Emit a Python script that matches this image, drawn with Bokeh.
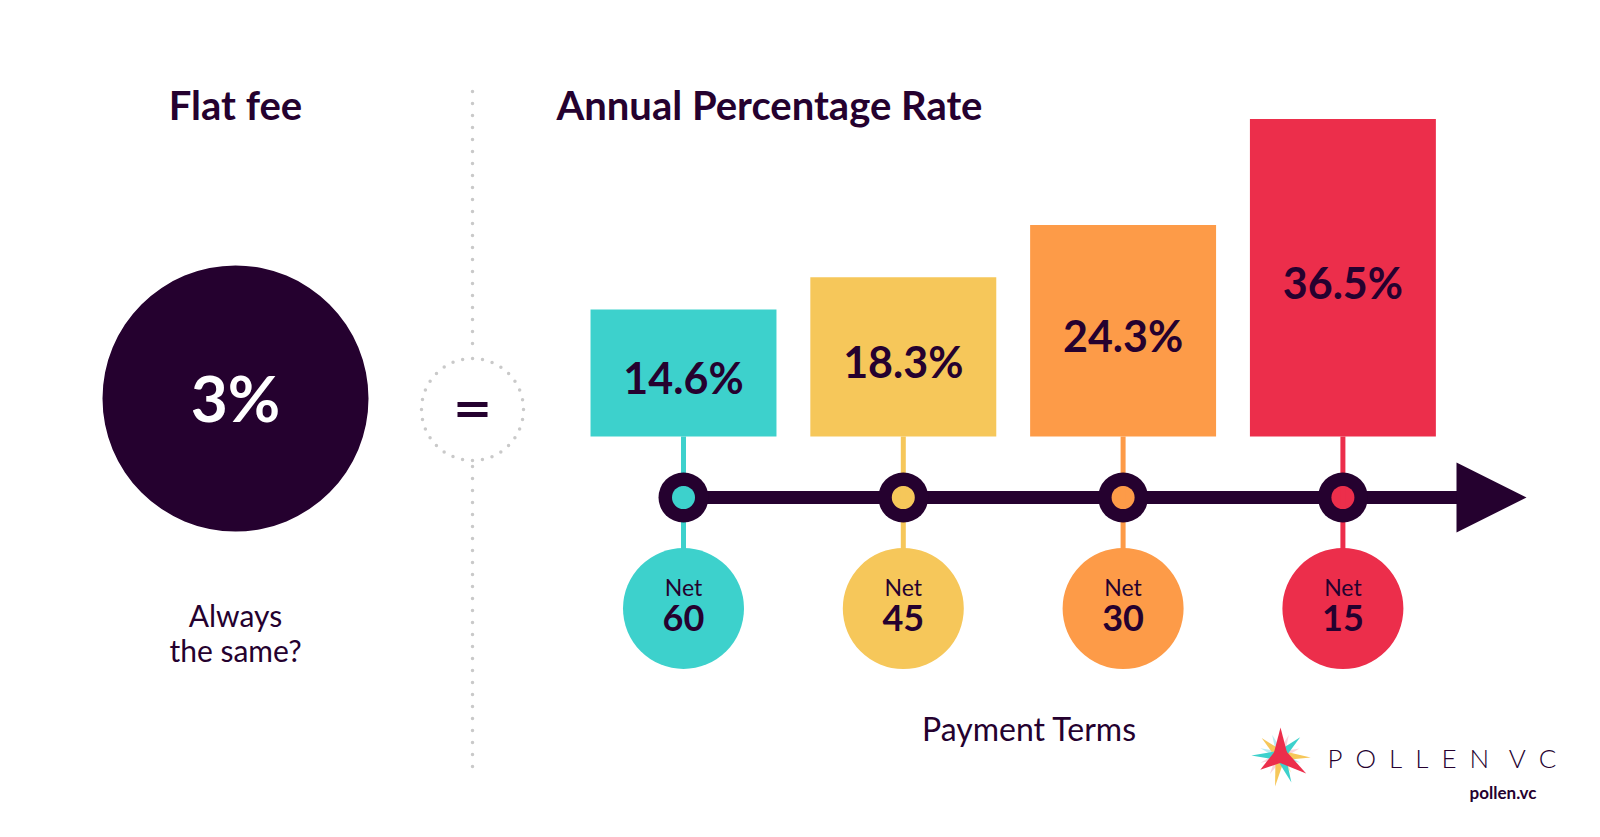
import numpy as np
from bokeh.plotting import figure
from bokeh.models import Range1d, ColumnDataSource
from bokeh.core.properties import value
from bokeh.embed import file_html
from bokeh.resources import INLINE

# ---- data ----
terms = ["60", "45", "30", "15"]
term_prefix = "Net"
apr_values = [14.6, 18.3, 24.3, 36.5]
flat_fee = 3
colors = ["#3dd1cc", "#f6c75a", "#fd9b48", "#ec2e4b"]
title_left = "Flat fee"
title_right = "Annual Percentage Rate"
axis_title = "Payment Terms"
subtitle_lines = ["Always", "the same?"]

DARK = "#25012f"
FONT = "Lato"
W, H = 1600, 837

p = figure(width=W, height=H, output_backend="svg", toolbar_location=None,
           x_range=Range1d(0, W), y_range=Range1d(H, 0), min_border=0)
p.axis.visible = False
p.grid.visible = False
p.outline_line_color = None
p.background_fill_color = "white"
p.border_fill_color = "white"

# extra ranges: bars in percent units, terms by index
K = 8.7          # px per percentage point
BASE = 436       # pixel row of 0 %
p.extra_y_ranges = {"pct": Range1d(start=(BASE - H) / K, end=BASE / K)}
C0, STEP = 683, 219.8
p.extra_x_ranges = {"terms": Range1d(start=-C0 / STEP, end=(W - C0) / STEP)}

idx = list(range(len(terms)))
src = ColumnDataSource(dict(
    i=idx, v=apr_values, half=[v / 2 for v in apr_values], col=colors,
    lab=[f"{v}%" for v in apr_values], term=terms,
    net=[term_prefix] * len(terms),
    left=[i - 0.423 for i in idx], right=[i + 0.423 for i in idx],
    zero=[0] * len(terms),
))

# ---- left panel ----
p.text(x=[235], y=[104], text=[title_left], text_font=value(FONT), text_font_style="bold",
       text_font_size="40px", text_color=DARK, text_align="center", text_baseline="alphabetic")
p.scatter(x=[235], y=[398], size=266, fill_color=DARK, line_color=None)
p.text(x=[235], y=[397], text=[f"{flat_fee}%"], text_font=value(FONT), text_font_style="bold",
       text_font_size="64px", text_color="white", text_align="center", text_baseline="alphabetic")
p.text(x=[235, 235], y=[614, 649], text=subtitle_lines, text_font=value(FONT),
       text_font_size="30px", text_color=DARK, text_align="center", text_baseline="alphabetic")

# dotted divider and "=" circle
p.line(x=[472, 472], y=[91, 352], line_color="#c9c9c9", line_width=3.5, line_dash="0 12", line_cap="round")
p.line(x=[472, 472], y=[466, 778], line_color="#c9c9c9", line_width=3.5, line_dash="0 12", line_cap="round")
p.circle(x=[472], y=[409], radius=51, fill_color=None, line_color="#c9c9c9", line_width=3.5,
         line_dash="0 10", line_cap="round")
p.rect(x=[472, 472], y=[404, 414], width=30, height=5, fill_color=DARK, line_color=None)

# ---- right panel ----
p.text(x=[556], y=[104], text=[title_right], text_font=value(FONT), text_font_style="bold",
       text_font_size="40px", text_color=DARK, text_align="left", text_baseline="alphabetic")

# bars
p.quad(left="left", right="right", bottom="zero", top="v", source=src, fill_color="col",
       line_color=None, x_range_name="terms", y_range_name="pct")
p.text(x="i", y="half", text="lab", source=src, x_range_name="terms", y_range_name="pct",
       text_font=value(FONT), text_font_style="bold", text_font_size="43px", text_color=DARK,
       text_align="center", text_baseline="middle", y_offset=5)

# stems
p.segment(x0="i", x1="i", y0=BASE, y1=555, source=src, line_color="col", line_width=5,
          x_range_name="terms")

# axis line + arrow
p.line(x=[C0, 1462], y=[497, 497], line_color=DARK, line_width=13)
p.patch(x=[1456, 1526, 1456], y=[462, 497, 532], fill_color=DARK, line_color=None)

# rings
p.scatter(x="i", y=497, source=src, size=50, fill_color=DARK, line_color=None, x_range_name="terms")
p.scatter(x="i", y=497, source=src, size=23, fill_color="col", line_color=None, x_range_name="terms")
p.segment(x0="i", x1="i", y0=486, y1=508, source=src, line_color="col", line_width=5,
          x_range_name="terms")

# term circles
p.scatter(x="i", y=608, source=src, size=121, fill_color="col", line_color=None, x_range_name="terms")
p.text(x="i", y=586, text="net", source=src, x_range_name="terms", text_font=value(FONT),
       text_font_size="23px", text_color=DARK, text_align="center", text_baseline="alphabetic")
p.text(x="i", y=617, text="term", source=src, x_range_name="terms", text_font=value(FONT),
       text_font_style="bold", text_font_size="36px", text_color=DARK, text_align="center",
       text_baseline="alphabetic")

p.text(x=[1029], y=[728], text=[axis_title], text_font=value(FONT), text_font_size="32px",
       text_color=DARK, text_align="center", text_baseline="alphabetic")

# ---- logo ----
cx, cy = 1280, 755
S = 1.12
rays = [
    # angle, length, half-width, color, alpha
    (-112, 20, 3.5, "#a9e6ef", 0.8), (-68, 20, 3.5, "#f7c9d4", 0.8),
    (160, 19, 3.5, "#f7c9d4", 0.8), (-160, 19, 3.5, "#a9e6ef", 0.8),
    (20, 19, 3.5, "#a9e6ef", 0.8), (-20, 18, 3.5, "#f7c9d4", 0.8),
    (120, 19, 3.5, "#f7c9d4", 0.8), (58, 18, 3.5, "#fde3a6", 0.8),
    (-137, 23, 4.5, "#f6c75a", 1), (4, 27, 4.5, "#f6c75a", 1), (100, 28, 4.5, "#f6c75a", 1),
    (180, 26, 4.5, "#3dd1cc", 1), (-43, 24, 4.5, "#3dd1cc", 1), (68, 26, 4.5, "#3dd1cc", 1),
    (-90, 25, 6.5, "#ec2e4b", 1), (145, 22, 6.5, "#ec2e4b", 1), (35, 28, 6.5, "#ec2e4b", 1),
]
xs, ys, cs, al = [], [], [], []
for ang, ln, hw, c, a in rays:
    t = np.deg2rad(ang)
    dx, dy = np.cos(t), np.sin(t)
    nx, ny = -dy, dx
    ln, hw = ln * S, hw * S
    xs.append([cx + nx * hw, cx + dx * ln, cx - nx * hw, cx - dx * 3])
    ys.append([cy + ny * hw, cy + dy * ln, cy - ny * hw, cy - dy * 3])
    cs.append(c)
    al.append(a)
p.patches(xs=xs, ys=ys, fill_color=cs, fill_alpha=al, line_color=None)

p.text(x=[1327], y=[757], text=["P\u2002O\u2002L\u2002L\u2002E\u2002N\u2003V\u2002C"],
       text_font=value("Lato Light, Lato"), text_font_size="26px", text_color=DARK,
       text_align="left", text_baseline="alphabetic")
p.text(x=[1536], y=[792], text=["pollen.vc"], text_font=value(FONT), text_font_style="bold",
       text_font_size="17px", text_color=DARK, text_align="right", text_baseline="alphabetic")

open("out.html", "w").write(file_html(p, INLINE))
